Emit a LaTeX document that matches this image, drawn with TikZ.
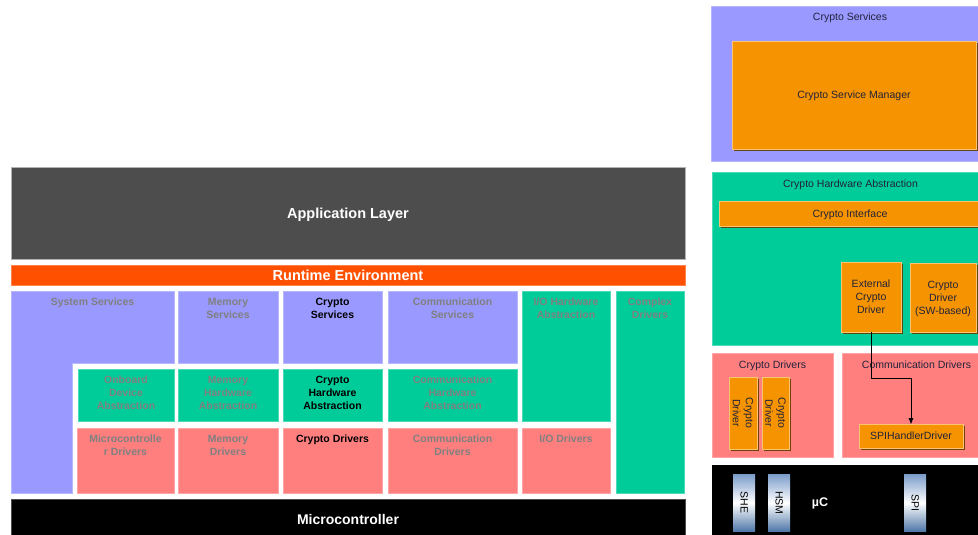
\documentclass[tikz,border=0pt]{standalone}
\usepackage{fontspec}
\setmainfont{Liberation Sans}
\usetikzlibrary{positioning,shadows,arrows.meta}

\definecolor{svcblue}{HTML}{9999FF}
\definecolor{hwgreen}{HTML}{00CC99}
\definecolor{drvred}{HTML}{FF7F7F}
\definecolor{rteorange}{HTML}{FF5000}
\definecolor{appgray}{HTML}{4D4D4D}
\definecolor{compo}{HTML}{F59300}
\definecolor{dimtxt}{HTML}{808080}
\definecolor{rtxt}{HTML}{22223A}
\definecolor{chiptop}{HTML}{7B9CC9}
\definecolor{chipbot}{HTML}{4F77A8}

\tikzset{
	blk/.style={anchor=north west, inner sep=0pt, outer sep=0pt, fill=#1, draw=#1!70!white, line width=0.7pt},
	ttl/.style={inner sep=0pt, align=center, font=\fontsize{10.5}{13}\selectfont\bfseries},
	rttl/.style={inner sep=0pt, align=center, text=rtxt, font=\fontsize{10.5}{13}\selectfont},
	big/.style={inner sep=0pt, text=white, text depth=0pt, font=\fontsize{14.5}{17}\selectfont\bfseries},
	compobox/.style={anchor=north west, inner sep=0pt, outer sep=0pt, text depth=0pt, fill=compo, draw=compo!55!white, line width=0.6pt,
		drop shadow={shadow xshift=1.6pt, shadow yshift=-1.6pt, fill=compo!40!black, opacity=0.9}},
	chip/.style={anchor=north west, inner sep=0pt, minimum width=22pt, minimum height=57pt,
		top color=chiptop, bottom color=chipbot, middle color=white},
}

\begin{document}
\begin{tikzpicture}[x=1pt,y=-1pt]
	\useasboundingbox (0,0) rectangle (978,535);
	% layered architecture
	\node[blk=appgray, draw=black!30, big, minimum width=674pt, minimum height=92pt] (app) at (11,167) {Application Layer};
	\node[blk=rteorange, big, minimum width=674pt, minimum height=20pt] (rte) at (11,265) {Runtime Environment};
	\node[blk=black, big, font=\fontsize{14}{17}\selectfont\bfseries, text height=14pt, minimum width=674pt, minimum height=36pt] (mcu) at (11,499) {Microcontroller};

	\filldraw[fill=svcblue, draw=svcblue!70!white, line width=0.7pt]
		(11,291) -- (174,291) -- (174,363) -- (72,363) -- (72,493) -- (11,493) -- cycle;
	\coordinate (sys) at (92.5,291);
	\node[ttl, text=dimtxt, below=7pt of sys] (sys-t) {System Services};

	\foreach \n/\x/\w/\c/\t in {memsvc/178/100/dimtxt/{Memory\\Services},
		cryptosvc/283/99/black/{Crypto\\Services},
		comsvc/388/129/dimtxt/{Communication\\Services}}
	{
		\node[blk=svcblue, minimum width=\w pt, minimum height=72pt] (\n) at (\x,291) {};
		\node[ttl, text=\c, below=7pt of \n.north] (\n-t) {\t};
	}
	\foreach \n/\x/\w/\c/\t in {onboard/78/96/dimtxt/{Onboard\\Device\\Abstraction},
		memhw/178/100/dimtxt/{Memory\\Hardware\\Abstraction},
		cryptohw/283/99/black/{Crypto\\Hardware\\Abstraction},
		comhw/388/129/dimtxt/{Communication\\Hardware\\Abstraction}}
	{
		\node[blk=hwgreen, minimum width=\w pt, minimum height=52pt] (\n) at (\x,369) {};
		\node[ttl, text=\c, below=7pt of \n.north] (\n-t) {\t};
	}
	\foreach \n/\x/\w/\c/\t in {mcudrv/77/97/dimtxt/{Microcontrolle\\r Drivers},
		memdrv/178/100/dimtxt/{Memory\\Drivers},
		cryptodrv/283/99/black/{Crypto Drivers},
		comdrv/388/129/dimtxt/{Communication\\Drivers},
		iodrv/522/88/dimtxt/{I/O Drivers}}
	{
		\node[blk=drvred, minimum width=\w pt, minimum height=65pt] (\n) at (\x,428) {};
		\node[ttl, text=\c, below=7pt of \n.north] (\n-t) {\t};
	}
	\node[blk=hwgreen, minimum width=88pt, minimum height=130pt] (iohw) at (522,291) {};
	\node[ttl, text=dimtxt, below=7pt of iohw.north] (iohw-t) {I/O Hardware\\Abstraction};
	\node[blk=hwgreen, minimum width=68pt, minimum height=202pt] (cdd) at (616,291) {};
	\node[ttl, text=dimtxt, below=7pt of cdd.north] (cdd-t) {Complex\\Drivers};

	% crypto stack in detail
	\node[blk=svcblue, minimum width=278pt, minimum height=155pt] (csvc) at (711,6) {};
	\node[rttl, below=7pt of csvc.north] (csvc-t) {Crypto Services};
	\node[compobox, rttl, minimum width=244pt, minimum height=108pt] (csm) at (732,41) {Crypto Service Manager};

	\node[blk=hwgreen, minimum width=277pt, minimum height=173pt] (chwa) at (712,172) {};
	\node[rttl, below=8pt of chwa.north] (chwa-t) {Crypto Hardware Abstraction};
	\node[compobox, rttl, minimum width=262pt, minimum height=25pt] (cif) at (719,201) {Crypto Interface};
	\node[compobox, rttl, minimum width=60pt, minimum height=70pt] (ext) at (841,262) {External\\Crypto\\Driver};
	\node[compobox, rttl, minimum width=66pt, minimum height=69pt] (swdrv) at (910,263) {Crypto\\Driver\\(SW-based)};

	\node[blk=drvred, minimum width=121pt, minimum height=104pt] (cdrv) at (712,353) {};
	\node[rttl, below=8pt of cdrv.north] (cdrv-t) {Crypto Drivers};
	\foreach \n/\x/\w in {cdA/729/28, cdB/762/27}
	{
		\node[compobox, minimum width=\w pt, minimum height=72pt] (\n) at (\x,377) {};
		\node[rttl, rotate=-90] (\n-t) at (\n.center) {Crypto\\Driver};
	}
	\node[blk=drvred, minimum width=149pt, minimum height=104pt] (comdrv2) at (842,353) {};
	\node[rttl, below=8pt of comdrv2.north] (comdrv2-t) {Communication Drivers};
	\node[compobox, rttl, minimum width=104pt, minimum height=24pt] (spih) at (859,424) {SPIHandlerDriver};

	\node[blk=black, draw=black, minimum width=270pt, minimum height=70pt] (uc) at (712,465) {};
	\node[inner sep=0pt, text=white, text depth=0pt, font=\fontsize{12.5}{15}\selectfont\bfseries] (uc-t) at (820,502) {µC};
	\foreach \n/\x/\t in {she/733/SHE, hsm/768/HSM, spi/904/SPI}
	{
		\node[chip] (\n) at (\x,474) {};
		\node[inner sep=0pt, rotate=-90, font=\fontsize{10.5}{12}\selectfont] (\n-t) at (\n.center) {\t};
	}

	\draw[line width=1pt, -{Triangle[length=6pt,width=4.5pt]}] (ext.south) -- ++(0,46) -| (spih.north);
\end{tikzpicture}
\end{document}
